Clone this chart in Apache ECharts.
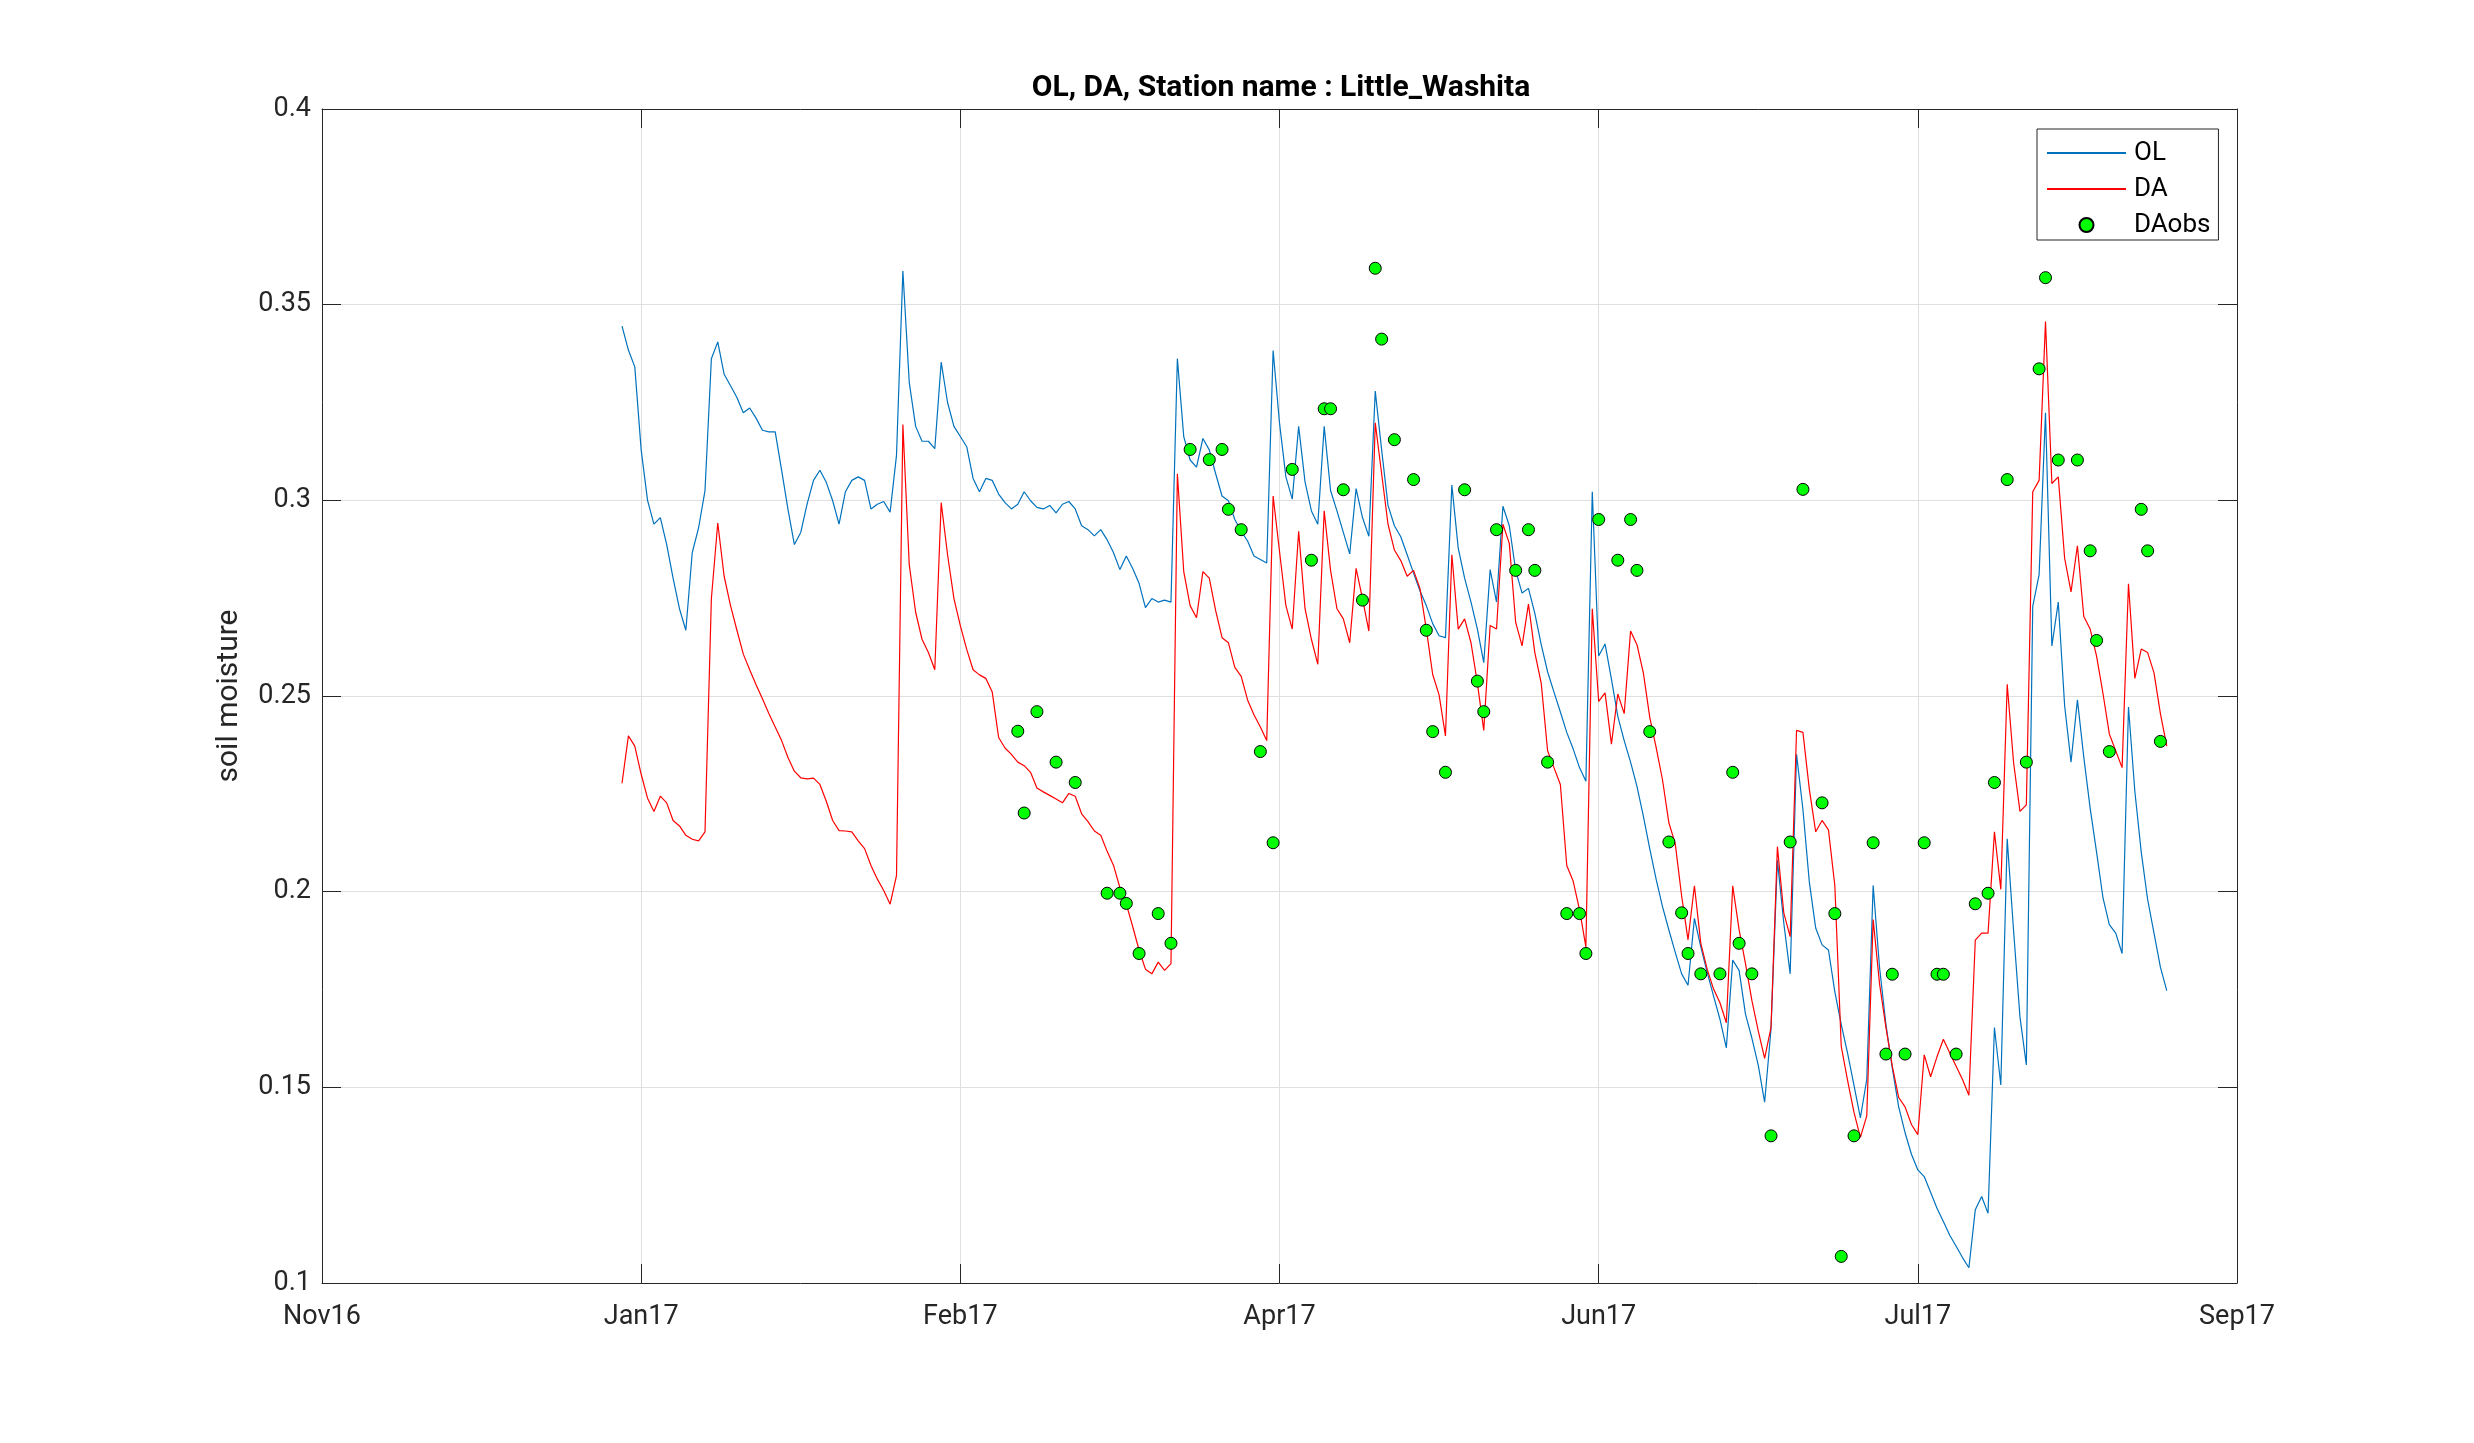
<!DOCTYPE html>
<html>
<head>
<meta charset="utf-8">
<script src="https://cdn.jsdelivr.net/npm/echarts@6/dist/echarts.min.js"></script>
<style>html,body{margin:0;padding:0;background:#fff}#c{width:2474px;height:1443px}</style>
</head>
<body>
<div id="c"></div>
<script>
// x unit: days since Nov 16 2016 (tick every 50 days)
var xTickLabels = ['Nov16','Jan17','Feb17','Apr17','Jun17','Jul17','Sep17'];
var yTickLabels = ['0.1','0.15','0.2','0.25','0.3','0.35','0.4'];
var startDay = 47;
var olValues = [
0.3445,0.3384,0.3341,0.3129,0.3000,0.2939,0.2956,0.2887,0.2801,0.2723,
0.2668,0.2866,0.2930,0.3025,0.3362,0.3405,0.3322,0.3293,0.3263,0.3224,
0.3236,0.3210,0.3179,0.3175,0.3175,0.3077,0.2977,0.2887,0.2918,0.2991,
0.3051,0.3077,0.3046,0.2999,0.2939,0.3022,0.3051,0.3060,0.3051,0.2978,
0.2990,0.2997,0.2970,0.3115,0.3586,0.3301,0.3189,0.3151,0.3151,0.3132,
0.3353,0.3250,0.3189,0.3163,0.3137,0.3056,0.3022,0.3056,0.3051,0.3016,
0.2994,0.2978,0.2990,0.3022,0.2999,0.2982,0.2978,0.2987,0.2968,0.2990,
0.2997,0.2978,0.2935,0.2925,0.2909,0.2925,0.2899,0.2866,0.2823,0.2858,
0.2826,0.2788,0.2726,0.2749,0.2740,0.2745,0.2740,0.3362,0.3163,0.3103,
0.3085,0.3158,0.3129,0.3068,0.3011,0.2999,0.2951,0.2921,0.2896,0.2858,
0.2849,0.2840,0.3383,0.3198,0.3060,0.3003,0.3189,0.3047,0.2973,0.2939,
0.3189,0.3025,0.2973,0.2918,0.2863,0.3030,0.2956,0.2908,0.3279,0.3129,
0.2987,0.2935,0.2907,0.2861,0.2814,0.2769,0.2731,0.2685,0.2654,0.2649,
0.3039,0.2878,0.2801,0.2740,0.2671,0.2585,0.2823,0.2740,0.2985,0.2935,
0.2821,0.2763,0.2775,0.2711,0.2631,0.2562,0.2510,0.2459,0.2407,0.2365,
0.2317,0.2282,0.3022,0.2602,0.2633,0.2543,0.2448,0.2386,0.2331,0.2269,
0.2193,0.2110,0.2032,0.1962,0.1902,0.1845,0.1790,0.1761,0.1932,0.1859,
0.1794,0.1733,0.1674,0.1601,0.1825,0.1799,0.1687,0.1626,0.1557,0.1462,
0.1649,0.2080,0.1920,0.1790,0.2351,0.2210,0.2025,0.1907,0.1864,0.1851,
0.1744,0.1661,0.1587,0.1505,0.1422,0.1520,0.2016,0.1807,0.1661,0.1549,
0.1450,0.1384,0.1329,0.1289,0.1272,0.1232,0.1191,0.1157,0.1122,0.1094,
0.1065,0.1039,0.1187,0.1221,0.1178,0.1653,0.1506,0.2135,0.1900,0.1680,
0.1557,0.2729,0.2810,0.3224,0.2628,0.2740,0.2475,0.2331,0.2490,0.2343,
0.2213,0.2101,0.1985,0.1916,0.1894,0.1842,0.2472,0.2256,0.2101,0.1980,
0.1894,0.1807,0.1747
];
var daValues = [
0.2277,0.2398,0.2372,0.2300,0.2239,0.2205,0.2244,0.2227,0.2182,0.2168,
0.2144,0.2134,0.2130,0.2153,0.2749,0.2942,0.2806,0.2731,0.2668,0.2607,
0.2567,0.2529,0.2493,0.2455,0.2421,0.2386,0.2343,0.2308,0.2291,0.2288,
0.2290,0.2274,0.2231,0.2182,0.2156,0.2155,0.2153,0.2130,0.2110,0.2067,
0.2032,0.2003,0.1968,0.2041,0.3194,0.2835,0.2714,0.2645,0.2611,0.2567,
0.2994,0.2861,0.2749,0.2680,0.2619,0.2567,0.2554,0.2545,0.2510,0.2394,
0.2367,0.2351,0.2331,0.2322,0.2305,0.2265,0.2255,0.2246,0.2237,0.2227,
0.2251,0.2244,0.2199,0.2179,0.2155,0.2144,0.2103,0.2067,0.2010,0.1968,
0.1911,0.1851,0.1802,0.1790,0.1820,0.1799,0.1816,0.3068,0.2818,0.2731,
0.2700,0.2818,0.2801,0.2718,0.2649,0.2636,0.2573,0.2550,0.2490,0.2452,
0.2421,0.2386,0.3011,0.2870,0.2731,0.2671,0.2921,0.2723,0.2645,0.2581,
0.2973,0.2821,0.2723,0.2697,0.2636,0.2826,0.2749,0.2666,0.3198,0.3068,
0.2939,0.2873,0.2846,0.2806,0.2821,0.2775,0.2671,0.2555,0.2503,0.2398,
0.2861,0.2671,0.2697,0.2636,0.2533,0.2412,0.2680,0.2671,0.2939,0.2890,
0.2688,0.2628,0.2735,0.2611,0.2533,0.2360,0.2317,0.2274,0.2067,0.2027,
0.1954,0.1859,0.2723,0.2486,0.2508,0.2377,0.2505,0.2455,0.2666,0.2631,
0.2559,0.2446,0.2369,0.2286,0.2176,0.2122,0.1989,0.1877,0.2015,0.1868,
0.1802,0.1751,0.1716,0.1665,0.2015,0.1903,0.1816,0.1722,0.1644,0.1574,
0.1653,0.2115,0.1946,0.1885,0.2412,0.2407,0.2262,0.2153,0.2182,0.2158,
0.2015,0.1605,0.1517,0.1436,0.1372,0.1427,0.1929,0.1765,0.1653,0.1554,
0.1474,0.1450,0.1405,0.1379,0.1583,0.1527,0.1578,0.1623,0.1588,0.1554,
0.1520,0.1480,0.1876,0.1894,0.1894,0.2153,0.2006,0.2530,0.2330,0.2205,
0.2222,0.3022,0.3051,0.3457,0.3043,0.3060,0.2852,0.2766,0.2884,0.2703,
0.2671,0.2602,0.2507,0.2403,0.2360,0.2317,0.2787,0.2545,0.2620,0.2611,
0.2559,0.2455,0.2372
];
var obsDays = [109,110,112,115,118,123,125,126,128,131,133,136,139,141,142,144,147,149,152,155,157,158,160,163,165,166,168,171,173,174,176,179,181,182,184,187,189,190,192,195,197,198,200,203,205,206,208,211,213,214,216,219,221,222,224,227,230,232,235,237,238,240,243,245,246,248,251,253,254,256,259,261,262,264,267,269,270,272,275,277,278,280,285,286,288];
var obsValues = [0.2410,0.2201,0.2460,0.2331,0.2279,0.1996,0.1996,0.1970,0.1842,0.1944,0.1868,0.3130,0.3104,0.3130,0.2977,0.2925,0.2358,0.2125,0.3079,0.2847,0.3234,0.3234,0.3027,0.2745,0.3593,0.3412,0.3155,0.3053,0.2668,0.2409,0.2305,0.3027,0.2538,0.2460,0.2925,0.2821,0.2925,0.2821,0.2331,0.1944,0.1944,0.1842,0.2951,0.2847,0.2951,0.2821,0.2409,0.2127,0.1946,0.1842,0.1790,0.1790,0.2305,0.1868,0.1790,0.1376,0.2127,0.3028,0.2227,0.1944,0.1068,0.1376,0.2125,0.1585,0.1789,0.1585,0.2125,0.1789,0.1789,0.1585,0.1969,0.1996,0.2279,0.3053,0.2331,0.3336,0.3569,0.3103,0.3103,0.2871,0.2642,0.2358,0.2977,0.2871,0.2384];

function pairs(vals){ return vals.map(function(v,i){ return [startDay+i, v]; }); }
var olData = pairs(olValues);
var daData = pairs(daValues);
var obsData = obsDays.map(function(d,i){ return [d, obsValues[i]]; });

var FONT = 'Roboto';
var AX = '#262626';
var xLab = function(v){ var i = Math.round(v/50); return xTickLabels[i] || ''; };
var yLab = function(v){ var i = Math.round((v-0.1)/0.05); return yTickLabels[i] || ''; };

var chart = echarts.init(document.getElementById('c'), null, {renderer:'canvas'});
var baseX = {type:'value', min:0, max:300, interval:50};
var baseY = {type:'value', min:0.1, max:0.4, interval:0.05};
chart.setOption({
  animation:false,
  backgroundColor:'#fff',
  title:{text:'OL, DA, Station name : Little_Washita', left:1276, top:68, textAlign:'center',
    textStyle:{fontFamily:FONT, fontSize:30, fontWeight:'bold', color:'#000'}},
  grid:{left:322, right:237, top:109, bottom:160, show:false},
  legend:{orient:'vertical', left:2037, top:129, padding:[11,8,2,9], itemGap:10,
    itemWidth:79, itemHeight:14, backgroundColor:'#fff', borderColor:AX, borderWidth:1,
    textStyle:{fontFamily:FONT, fontSize:26, color:'#000', lineHeight:24, padding:[0,0,0,3]},
    data:[
      {name:'OL', itemStyle:{opacity:0, borderWidth:0}},
      {name:'DA', itemStyle:{opacity:0, borderWidth:0}},
      {name:'DAobs'}
    ]},
  xAxis:[
    Object.assign({}, baseX, {position:'bottom',
      axisLine:{show:true, onZero:false, lineStyle:{color:AX, width:1}},
      axisTick:{show:true, inside:true, length:19, lineStyle:{color:AX}},
      axisLabel:{formatter:xLab, fontFamily:FONT, fontSize:27, color:AX, margin:21},
      splitLine:{show:true, lineStyle:{color:'#dfdfdf', width:1}}}),
    Object.assign({}, baseX, {position:'top',
      axisLine:{show:true, onZero:false, lineStyle:{color:AX, width:1}},
      axisTick:{show:true, inside:true, length:19, lineStyle:{color:AX}},
      axisLabel:{show:false}, splitLine:{show:false}})
  ],
  yAxis:[
    Object.assign({}, baseY, {position:'left', name:'soil moisture', nameLocation:'middle', nameGap:78,
      nameTextStyle:{fontFamily:FONT, fontSize:30, color:AX},
      axisLine:{show:true, onZero:false, lineStyle:{color:AX, width:1}},
      axisTick:{show:true, inside:true, length:19, lineStyle:{color:AX}},
      axisLabel:{formatter:yLab, fontFamily:FONT, fontSize:27, color:AX, margin:11},
      splitLine:{show:true, lineStyle:{color:'#dfdfdf', width:1}}}),
    Object.assign({}, baseY, {position:'right',
      axisLine:{show:true, onZero:false, lineStyle:{color:AX, width:1}},
      axisTick:{show:true, inside:true, length:19, lineStyle:{color:AX}},
      axisLabel:{show:false}, splitLine:{show:false}})
  ],
  series:[
    {name:'OL', type:'line', data:olData, xAxisIndex:0, yAxisIndex:0, showSymbol:false, symbol:'none',
      lineStyle:{color:'#0072BD', width:1.2}, itemStyle:{color:'#0072BD'}, z:2},
    {name:'DA', type:'line', data:daData, xAxisIndex:0, yAxisIndex:0, showSymbol:false, symbol:'none',
      lineStyle:{color:'#FF0000', width:1.2}, itemStyle:{color:'#FF0000'}, z:3},
    {name:'DAobs', type:'scatter', data:obsData, xAxisIndex:0, yAxisIndex:0, symbol:'circle', symbolSize:12,
      itemStyle:{color:'#00FF00', borderColor:'#000', borderWidth:1, opacity:1}, z:4}
  ]
});
</script>
</body>
</html>
